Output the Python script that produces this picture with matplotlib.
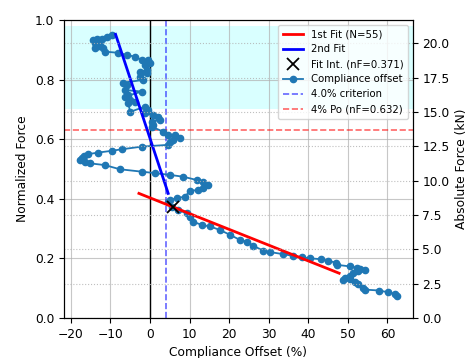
import matplotlib
matplotlib.use("Agg")
import matplotlib.pyplot as plt
import numpy as np

plt.rcParams["font.size"] = 8.8

# Compliance offset (%) vs normalized force along the test
offset_pct = [
    -9.7, -10.9, -12.2, -13.3, -14.3, -13.9, -12.6, -13.9, -12.8, -11.8,
    -11.4, -8.0,
    -5.9, -3.8, -2.1, -0.4, 0.0, -1.3, -0.8, -2.5, -0.8, -2.5,
    -1.7, -6.7, -5.9, -6.3, -2.1, -6.3, -5.5, -5.0, -3.8, -5.5,
    -5.0, -1.3, -0.4, -1.3, 0.8, 2.1, 2.5, 0.4, 0.8, 0.4,
    3.4, 4.6, 6.3, 7.6, 5.9, 5.1, 4.6, -2.1, -7.2, -9.7,
    -13.1, -15.6, -16.8, -17.3, -17.7, -16.4, -15.2, -11.4, -7.6, -2.1, 1.3,
    5.1, 8.4, 11.8, 13.5, 14.7, 13.5, 12.2, 10.1, 8.8, 6.7,
    5.1, 4.6, 5.5, 7.2, 9.3, 10.1, 10.9, 13.1, 15.2, 17.7,
    20.2, 22.7, 24.4, 26.1, 28.6, 30.3, 33.7, 36.2, 38.3, 40.4,
    43.3, 45.0, 47.1, 47.3, 50.5, 52.2, 53.0, 54.3, 52.6, 51.3,
    50.5, 49.2, 48.8, 50.5, 51.8, 52.6, 53.9, 54.3, 57.9, 60.2,
    61.9, 62.4,
]
norm_force = [
    0.950, 0.944, 0.935, 0.938, 0.933, 0.924, 0.922, 0.905, 0.912, 0.905,
    0.894, 0.890,
    0.883, 0.877, 0.866, 0.866, 0.855, 0.850, 0.832, 0.827, 0.821, 0.810,
    0.799, 0.790, 0.782, 0.765, 0.760, 0.743, 0.749, 0.732, 0.726, 0.720,
    0.692, 0.709, 0.698, 0.687, 0.681, 0.675, 0.664, 0.659, 0.648, 0.642,
    0.625, 0.614, 0.614, 0.603, 0.597, 0.592, 0.581, 0.575, 0.566, 0.561,
    0.555, 0.550, 0.544, 0.537, 0.530, 0.525, 0.519, 0.513, 0.499, 0.491, 0.486,
    0.480, 0.474, 0.463, 0.457, 0.446, 0.435, 0.430, 0.426, 0.407, 0.402,
    0.396, 0.388, 0.374, 0.362, 0.351, 0.340, 0.323, 0.312, 0.307, 0.295,
    0.279, 0.262, 0.256, 0.242, 0.226, 0.221, 0.214, 0.208, 0.204, 0.200,
    0.197, 0.192, 0.185, 0.178, 0.173, 0.169, 0.163, 0.162, 0.156, 0.150,
    0.142, 0.133, 0.128, 0.130, 0.122, 0.114, 0.102, 0.095, 0.092, 0.086,
    0.081, 0.075,
]

# Linear fits (end points of each fitted segment)
fit1_x = [-2.8, 47.8]
fit1_y = [0.418, 0.150]
fit2_x = [-8.7, 4.6]
fit2_y = [0.952, 0.418]

# Intersection of the two fits
int_x = 5.9
int_nf = 0.371

criterion_pct = 4.0
po_level = 0.632
po_kn = 21.7          # peak force, kN
band = (0.70, 0.98)

fig = plt.figure(figsize=(4.68, 3.58), dpi=100)
ax = fig.add_axes([0.137, 0.112, 0.745, 0.832])

ax.axhspan(band[0], band[1], color="cyan", alpha=0.15, lw=0, zorder=0)
ax.grid(True, color="#b0b0b0", lw=0.8, alpha=0.7)
ax.set_axisbelow(True)
ax.axvline(0, color="k", lw=1.0, zorder=1)

h_fit1, = ax.plot(fit1_x, fit1_y, color="red", lw=2, label="1st Fit (N=55)", zorder=4)
h_fit2, = ax.plot(fit2_x, fit2_y, color="blue", lw=2, label="2nd Fit", zorder=4)
h_int, = ax.plot([int_x], [int_nf], "x", color="k", ms=8, mew=1.3,
                 label=f"Fit Int. (nF={int_nf:.3f})", linestyle="none", zorder=5)
h_data, = ax.plot(offset_pct, norm_force, "-o", color="#1f77b4", ms=4.5, lw=1.3,
                  label="Compliance offset", zorder=3)
h_crit = ax.axvline(criterion_pct, color="blue", ls="--", lw=1.2, alpha=0.6,
                    label=f"{criterion_pct:.1f}% criterion", zorder=2)
h_po = ax.axhline(po_level, color="red", ls="--", lw=1.2, alpha=0.6,
                  label=f"4% Po (nF={po_level:.3f})", zorder=2)

ax.set_ylim(0, 1.0)
ax.set_xlabel("Compliance Offset (%)")
ax.set_ylabel("Normalized Force")

ax2 = ax.twinx()
ax2.set_ylim(0, po_kn)
ax2.set_yticks(np.arange(0, 21, 2.5))
ax2.grid(True, ls=":", color="#b0b0b0", lw=0.8, alpha=0.8)
ax2.set_ylabel("Absolute Force (kN)")

ax2.legend(handles=[h_fit1, h_fit2, h_int, h_data, h_crit, h_po],
           loc="upper right", fontsize=7.3)

fig.savefig("out.png", dpi=100)
